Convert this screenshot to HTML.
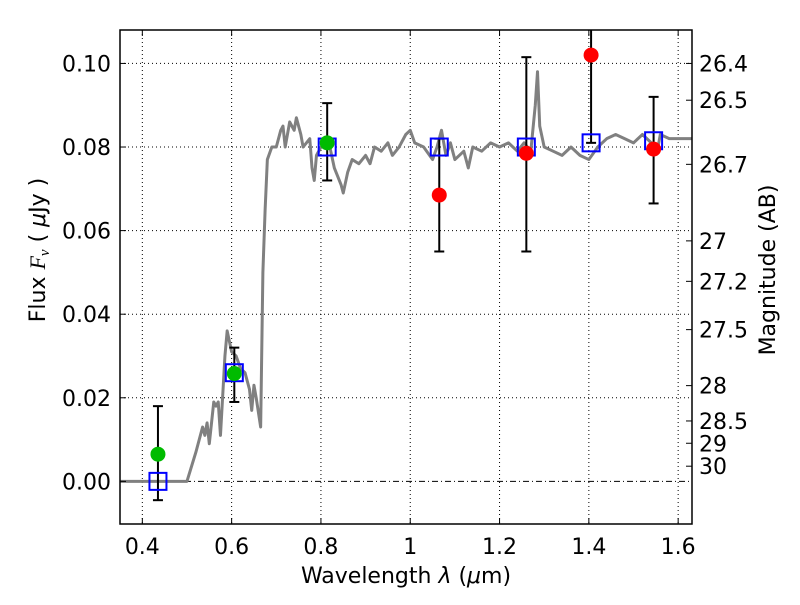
<!DOCTYPE html>
<html><head><meta charset="utf-8"><style>
body{margin:0;background:#fff;}
svg text{font-family:"DejaVu Sans","Liberation Sans",sans-serif;fill:#000;}
</style></head><body>
<svg id="c" width="800" height="600" xmlns="http://www.w3.org/2000/svg"></svg>
<script>
const specWl=[0.35,0.50,0.52,0.535,0.54,0.545,0.55,0.56,0.565,0.57,0.575,0.585,0.59,0.60,0.61,0.62,0.63,0.64,0.645,0.65,0.655,0.665,0.67,0.675,0.68,0.69,0.70,0.71,0.715,0.72,0.73,0.74,0.745,0.755,0.76,0.775,0.78,0.785,0.79,0.80,0.82,0.83,0.845,0.85,0.86,0.87,0.885,0.90,0.91,0.92,0.935,0.95,0.96,0.975,0.99,1.00,1.01,1.03,1.05,1.06,1.07,1.08,1.09,1.10,1.12,1.13,1.14,1.16,1.18,1.20,1.22,1.24,1.255,1.27,1.28,1.285,1.29,1.30,1.32,1.34,1.36,1.38,1.40,1.42,1.44,1.46,1.48,1.50,1.52,1.54,1.555,1.56,1.58,1.60,1.63];
const specFlux=[0,0,0.007,0.013,0.011,0.014,0.009,0.019,0.018,0.019,0.011,0.030,0.036,0.031,0.030,0.027,0.026,0.022,0.017,0.023,0.020,0.013,0.050,0.065,0.077,0.080,0.080,0.084,0.085,0.080,0.086,0.084,0.087,0.083,0.080,0.082,0.075,0.072,0.078,0.080,0.080,0.075,0.071,0.069,0.074,0.077,0.076,0.078,0.076,0.080,0.079,0.081,0.078,0.080,0.083,0.084,0.081,0.080,0.077,0.080,0.084,0.078,0.081,0.077,0.079,0.075,0.080,0.079,0.081,0.080,0.081,0.079,0.081,0.079,0.090,0.098,0.085,0.080,0.079,0.078,0.080,0.078,0.077,0.080,0.082,0.083,0.082,0.081,0.083,0.081,0.080,0.083,0.082,0.082,0.082];
const modelWl=[0.435,0.606,0.814,1.065,1.26,1.405,1.545];
const modelFlux=[0.0,0.026,0.080,0.080,0.080,0.081,0.0815];
const greenWl=[0.435,0.606,0.814];
const greenFlux=[0.0065,0.0258,0.081];
const redWl=[1.065,1.26,1.405,1.545];
const redFlux=[0.0685,0.0785,0.102,0.0795];
const errWl=[0.435,0.606,0.814,1.065,1.26,1.405,1.545];
const errLo=[-0.0045,0.019,0.072,0.055,0.055,0.081,0.0665];
const errHi=[0.018,0.032,0.0905,0.082,0.1015,0.115,0.092];
const xTicks=[0.4,0.6,0.8,1.0,1.2,1.4,1.6];
const xTickLabels=["0.4","0.6","0.8","1","1.2","1.4","1.6"];
const yTicks=[0,0.02,0.04,0.06,0.08,0.10];
const yTickLabels=["0.00","0.02","0.04","0.06","0.08","0.10"];
const magTicks=[26.4,26.5,26.7,27,27.2,27.5,28,28.5,29,30];

const L=120,R=692,T=30,B=524,x0=0.35,x1=1.631,y0=-0.0102,y1=0.108;
const X=v=>L+(v-x0)/(x1-x0)*(R-L);
const Y=v=>B-(v-y0)/(y1-y0)*(B-T);
const svg=document.getElementById('c');
const NS='http://www.w3.org/2000/svg';
function mk(tag,attrs,parent){const e=document.createElementNS(NS,tag);for(const k in attrs)e.setAttribute(k,attrs[k]);(parent||svg).appendChild(e);return e;}
const clip=mk('clipPath',{id:'pc'});mk('rect',{x:L,y:T,width:R-L,height:B-T},clip);
const grid=mk('g',{});


xTicks.forEach(t=>{mk('line',{x1:X(t),x2:X(t),y1:T,y2:B,stroke:'#000','stroke-width':1,'stroke-dasharray':'1,3'},grid);});
yTicks.forEach(t=>{mk('line',{x1:L,x2:R,y1:Y(t),y2:Y(t),stroke:'#000','stroke-width':1,'stroke-dasharray':t===0?'6,3,1,3':'1,3'},grid);});
const g=mk('g',{'clip-path':'url(#pc)'});
const sp=mk('polyline',{points:specWl.map((w,i)=>X(w)+','+Y(specFlux[i])).join(' '),fill:'none',stroke:'#808080','stroke-width':3,'stroke-linejoin':'round'},g);


errWl.forEach((w,i)=>{
  const eg=mk('g',{},g);
  
  
  mk('line',{x1:X(w),x2:X(w),y1:Y(errLo[i]),y2:Y(errHi[i]),stroke:'#000','stroke-width':2},eg);
  mk('line',{x1:X(w)-5,x2:X(w)+5,y1:Y(errLo[i]),y2:Y(errLo[i]),stroke:'#000','stroke-width':2},eg);
  mk('line',{x1:X(w)-5,x2:X(w)+5,y1:Y(errHi[i]),y2:Y(errHi[i]),stroke:'#000','stroke-width':2},eg);
});
modelWl.forEach((w,i)=>{const r=mk('rect',{x:X(w)-8.5,y:Y(modelFlux[i])-8.5,width:17,height:17,fill:'none',stroke:'#0000ff','stroke-width':2},g);
  
  });
greenWl.forEach((w,i)=>{const c=mk('circle',{cx:X(w),cy:Y(greenFlux[i]),r:7.5,fill:'#00bb00'},g);
  
  });
redWl.forEach((w,i)=>{const c=mk('circle',{cx:X(w),cy:Y(redFlux[i]),r:7.5,fill:'#ff0000'},g);
  
  });
const frame=mk('rect',{x:L,y:T,width:R-L,height:B-T,fill:'none',stroke:'#000','stroke-width':1.5});


xTicks.forEach((t,i)=>{
  mk('line',{x1:X(t),x2:X(t),y1:B,y2:B-6,stroke:'#000'});
  mk('line',{x1:X(t),x2:X(t),y1:T,y2:T+6,stroke:'#000'});
  const tx=mk('text',{x:X(t),y:B+30,'text-anchor':'middle','font-size':22});tx.textContent=xTickLabels[i];
  
  
});
yTicks.forEach((t,i)=>{
  mk('line',{x1:L,x2:L+6,y1:Y(t),y2:Y(t),stroke:'#000'});
  const tx=mk('text',{x:L-9,y:Y(t)+8,'text-anchor':'end','font-size':22});tx.textContent=yTickLabels[i];
  
  
});
magTicks.forEach(m=>{
  const f=Math.pow(10,-(m-23.9)/2.5);const y=Y(f);
  mk('line',{x1:R,x2:R-6,y1:y,y2:y,stroke:'#000'});
  const tx=mk('text',{x:R+7,y:y+8,'font-size':22});tx.textContent=String(m);
  
  
});
</script>
<svg width="800" height="600" style="position:absolute;left:0;top:0" xmlns="http://www.w3.org/2000/svg">
<text x="406" y="583" text-anchor="middle" font-size="22">Wavelength  <tspan font-style="italic">λ</tspan> (<tspan font-style="italic">μ</tspan>m)</text>
<text transform="translate(45,250) rotate(-90)" text-anchor="middle" font-size="22">Flux  <tspan font-style="italic" font-family="Liberation Serif">F<tspan font-size="15" dy="4">ν</tspan></tspan><tspan dy="-4">  (  </tspan><tspan font-style="italic">μ</tspan>Jy )</text>
<text transform="translate(775,270) rotate(-90)" text-anchor="middle" font-size="22">Magnitude (AB)</text>
</svg>
</body></html>
